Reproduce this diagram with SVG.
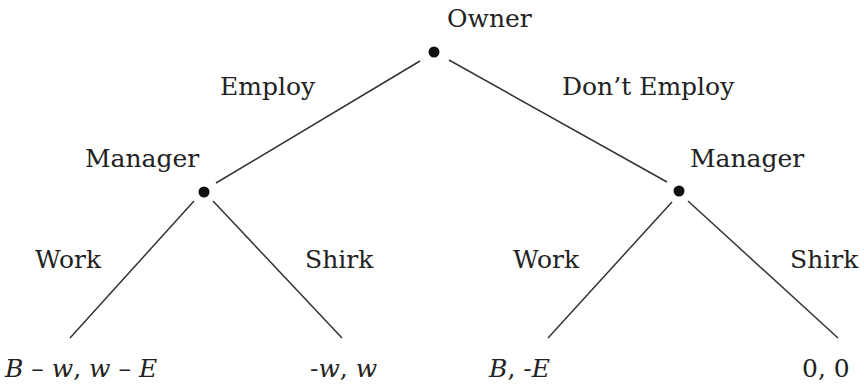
<svg xmlns="http://www.w3.org/2000/svg" width="864" height="385" viewBox="0 0 864 385">
<style>
text{font-family:"DejaVu Serif","Liberation Serif",serif;font-size:25px;fill:#222}
.i{font-style:italic}
.e{stroke:#333;stroke-width:1.5;fill:none}
.d{fill:#111}
</style>
<rect width="864" height="385" fill="#fff"/>
<g id="connectors">
<line class="e" x1="420" y1="61" x2="216" y2="183"/>
<line class="e" x1="449" y1="60" x2="667" y2="182"/>
<line class="e" x1="194" y1="201" x2="70" y2="338"/>
<line class="e" x1="213" y1="201" x2="342" y2="338"/>
<line class="e" x1="672" y1="202" x2="548" y2="338"/>
<line class="e" x1="688" y1="201" x2="838" y2="338"/>
</g>
<g id="owner">
<circle class="d" cx="434" cy="52" r="5.5"/>
<text x="447" y="27">Owner</text>
</g>
<g id="manager-left">
<circle class="d" cx="204" cy="192" r="5.5"/>
<text x="85" y="167">Manager</text>
</g>
<g id="manager-right">
<circle class="d" cx="679" cy="191" r="5.5"/>
<text x="690" y="167">Manager</text>
</g>
<g id="labels">
<text x="220" y="95">Employ</text>
<text x="562" y="95">Don’t Employ</text>
<text x="35" y="268">Work</text>
<text x="305" y="268">Shirk</text>
<text x="513" y="268">Work</text>
<text x="790" y="268">Shirk</text>
</g>
<g id="payoff-1"><text x="5" y="377"><tspan class="i">B</tspan> – <tspan class="i">w</tspan>, <tspan class="i">w</tspan> – <tspan class="i">E</tspan></text></g>
<g id="payoff-2"><text x="310" y="377"><tspan class="i">-w</tspan>, <tspan class="i">w</tspan></text></g>
<g id="payoff-3"><text x="489" y="377"><tspan class="i">B</tspan>, <tspan class="i">-E</tspan></text></g>
<g id="payoff-4"><text x="802" y="377">0, 0</text></g>
</svg>
